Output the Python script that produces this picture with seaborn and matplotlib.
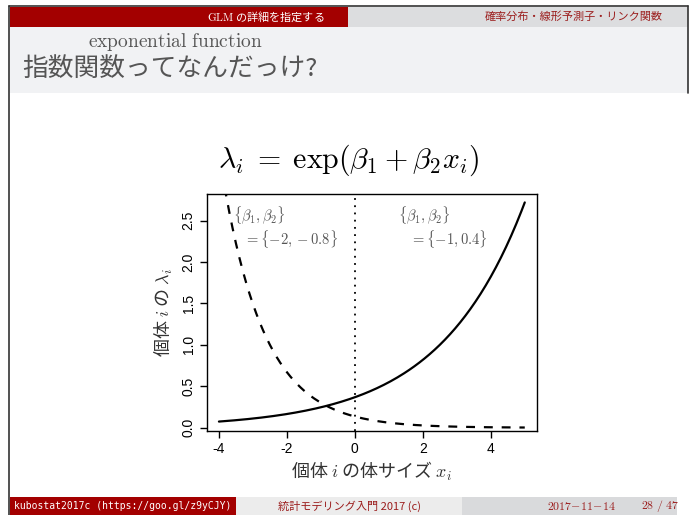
import numpy as np
import pandas as pd
import matplotlib
matplotlib.use("Agg")
import matplotlib.pyplot as plt
import seaborn as sns
from matplotlib.patches import Rectangle
from matplotlib.lines import Line2D

# ---- data ----
beta1 = [-2.0, -1.0]
beta2 = [-0.8, 0.4]
series_names = ["{-2, -0.8}", "{-1, 0.4}"]
x_values = np.linspace(-4, 5, 181)
x_ticks = [-4, -2, 0, 2, 4]
y_ticks = [0.0, 0.5, 1.0, 1.5, 2.0, 2.5]
y_tick_labels = ["0.0", "0.5", "1.0", "1.5", "2.0", "2.5"]

rows = []
for name, b1, b2 in zip(series_names, beta1, beta2):
    for xv in x_values:
        rows.append({"x": xv, "lam": np.exp(b1 + b2 * xv), "set": name})
df = pd.DataFrame(rows)

sns.set_theme(style="white")
plt.rcParams["mathtext.fontset"] = "cm"
plt.rcParams["font.family"] = ["Noto Sans CJK JP", "DejaVu Sans"]

W, H = 695, 515
fig = plt.figure(figsize=(W / 100, H / 100), dpi=100)
fig.patch.set_facecolor("white")

def px_rect(x0, y0, x1, y1, color):
    fig.patches.append(Rectangle((x0 / W, 1 - y1 / H), (x1 - x0) / W, (y1 - y0) / H,
                                 transform=fig.transFigure, facecolor=color,
                                 edgecolor="none", zorder=0))

def px_text(x, y, s, **kw):
    fig.text(x / W, 1 - y / H, s, **kw)

RED = "#a30000"
DARKRED = "#9b1c1c"
# header bars
px_rect(10, 7, 348, 27, RED)
px_rect(348, 7, 688, 27, "#dcdddf")
px_rect(10, 27, 688, 93, "#f1f2f4")
# footer bars
px_rect(10, 497, 236, 515, RED)
px_rect(236, 497, 462, 515, "#ececec")
px_rect(462, 497, 677, 515, "#d9dadc")
# frame lines
fig.lines.append(Line2D([9 / W, 9 / W], [0, 1 - 6 / H], transform=fig.transFigure, color="#333333", lw=1.2))
fig.lines.append(Line2D([9 / W, 688 / W], [1 - 6 / H, 1 - 6 / H], transform=fig.transFigure, color="#333333", lw=1.2))
fig.lines.append(Line2D([688 / W, 688 / W], [1 - 6 / H, 1 - 93 / H], transform=fig.transFigure, color="#333333", lw=1.2))

px_text(325, 17, r"$\mathrm{GLM}$ の詳細を指定する", color="white", fontsize=8, ha="right", va="center")
px_text(663, 17, "確率分布・線形予測子・リンク関数", color=DARKRED, fontsize=8, ha="right", va="center")
px_text(88, 42, r"$\mathrm{exponential\ function}$", color="#555555", fontsize=14, ha="left", va="center")
px_text(22, 69, "指数関数ってなんだっけ?", color="#555555", fontsize=18.5, ha="left", va="center")

px_text(14, 506, "kubostat2017c (https://goo.gl/z9yCJY)", color="white", fontsize=7,
        family="DejaVu Sans Mono", ha="left", va="center")
px_text(349, 506, "統計モデリング入門 2017 (c)", color=DARKRED, fontsize=8, ha="center", va="center")
px_text(581, 506, r"$\mathrm{2017\!-\!11\!-\!14}$", color=DARKRED, fontsize=8.5, ha="center", va="center")
px_text(660, 506, r"$\mathrm{28\ /\ 47}$", color=DARKRED, fontsize=8.5, ha="center", va="center")

# formula title
px_text(348, 160, r"$\lambda_i \;=\; \exp(\beta_1 + \beta_2 x_i)$", color="black", fontsize=21.5, ha="center", va="center")

# ---- axes ----
ax_l, ax_r, ax_t, ax_b = 206.7, 537, 194, 430.7
ax = fig.add_axes([ax_l / W, 1 - ax_b / H, (ax_r - ax_l) / W, (ax_b - ax_t) / H])
ax.set_facecolor("white")

sns.lineplot(data=df[df["set"] == series_names[0]], x="x", y="lam", ax=ax, color="black",
             lw=1.6, legend=False)
ax.lines[-1].set_dashes((4, 4))
sns.lineplot(data=df[df["set"] == series_names[1]], x="x", y="lam", ax=ax, color="black",
             lw=1.6, legend=False)
ax.axvline(0, color="black", lw=1.3, linestyle=(0, (1, 3)))

ax.set_xlim(-4.36, 5.36)
ax.set_ylim(-0.036, 2.82)
for sp in ax.spines.values():
    sp.set_visible(True)
    sp.set_color("black")
    sp.set_linewidth(1.0)
ax.set_xticks(x_ticks)
ax.set_xticklabels([str(t) for t in x_ticks], family="Liberation Sans", fontsize=10)
ax.set_yticks(y_ticks)
ax.set_yticklabels(y_tick_labels, family="Liberation Sans", fontsize=10, rotation=90, va="center")
ax.tick_params(axis="both", direction="out", length=5, width=1, color="black", labelcolor="black",
               bottom=True, left=True, pad=3)
ax.set_xlabel("個体 $i$ の体サイズ $x_i$", fontsize=13, color="#333333", labelpad=3)
ax.set_ylabel("個体 $i$ の $\\lambda_i$", fontsize=13, color="#333333", labelpad=5)

ann_kw = dict(color="#555555", fontsize=10.5, ha="left", va="center")
ax.text(-3.6, 2.56, r"$\{\beta_1, \beta_2\}$", **ann_kw)
ax.text(-3.25, 2.27, r"$= \{-2, -0.8\}$", **ann_kw)
ax.text(1.28, 2.56, r"$\{\beta_1, \beta_2\}$", **ann_kw)
ax.text(1.62, 2.27, r"$= \{-1, 0.4\}$", **ann_kw)

fig.savefig("out.png", dpi=100, facecolor="white")
